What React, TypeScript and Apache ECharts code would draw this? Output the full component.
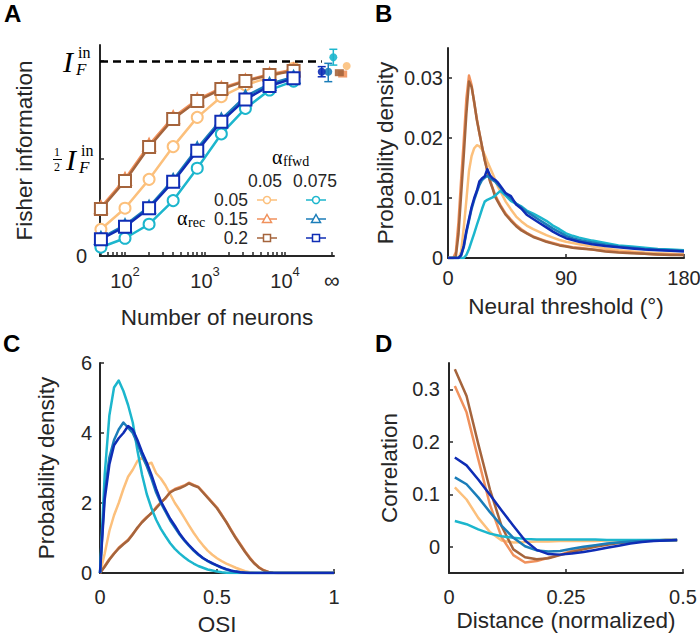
import { useEffect, useRef } from 'react';
import * as echarts from 'echarts';

// ---------------- Panel A: Fisher information vs number of neurons ----------------
const neurons = [50, 100, 200, 400, 800, 1600, 3200, 6400, 12800];
const fisherLightOrange = [0.137, 0.245, 0.393, 0.561, 0.711, 0.817, 0.877, 0.916, 0.963];
const fisherOrange = [0.25, 0.395, 0.57, 0.712, 0.802, 0.862, 0.9, 0.932, 0.955];
const fisherBrown = [0.241, 0.385, 0.559, 0.703, 0.795, 0.856, 0.897, 0.928, 0.949];
const fisherCyan = [0.045, 0.091, 0.163, 0.284, 0.45, 0.626, 0.757, 0.851, 0.897];
const fisherTeal = [0.092, 0.158, 0.252, 0.39, 0.552, 0.7, 0.818, 0.882, 0.918];
const fisherDarkBlue = [0.086, 0.15, 0.245, 0.381, 0.54, 0.689, 0.803, 0.872, 0.911];
// values at N = infinity (order: lightOrange, orange, brown, cyan, teal, darkBlue)
const fisherInf = [0.974, 0.933, 0.94, 1.019, 0.945, 0.945];
const fisherInfLow = [null, null, null, 0.979, 0.894, 0.919];
const fisherInfHigh = [null, null, null, 1.06, 0.988, 0.971];
const aTickExponents = [2, 3, 4];
const alphaFfwd = ['0.05', '0.075'];
const alphaRec = ['0.05', '0.15', '0.2'];

// ---------------- Panel B: neural threshold distributions ----------------
const thresholdDeg = [0, 4, 6, 8, 10, 12, 14, 16, 18, 20, 22, 24, 26, 28, 30, 32, 34, 36, 38, 40, 44, 48, 52, 56, 60, 65, 70, 75, 80, 85, 90, 95, 100, 110, 120, 130, 140, 150, 160, 170, 180];
const thrLightOrange = [0, 0, 0, 0, 0.001, 0.005, 0.0096, 0.0145, 0.017, 0.0183, 0.0188, 0.0186, 0.0181, 0.0172, 0.0161, 0.0151, 0.0141, 0.013, 0.0119, 0.0111, 0.0094, 0.0081, 0.0069, 0.0061, 0.0054, 0.0048, 0.0043, 0.0038, 0.0034, 0.003, 0.0027, 0.0025, 0.0023, 0.0019, 0.0016, 0.0013, 0.0011, 0.0009, 0.0008, 0.0007, 0.0006];
const thrOrange = [0, 0, 0.001, 0.006, 0.013, 0.0195, 0.0265, 0.0304, 0.0288, 0.0258, 0.0232, 0.0207, 0.0185, 0.0164, 0.0146, 0.013, 0.0117, 0.0105, 0.0096, 0.0088, 0.0074, 0.0064, 0.0055, 0.0048, 0.0042, 0.0036, 0.0032, 0.0028, 0.0025, 0.0022, 0.002, 0.0018, 0.0017, 0.0014, 0.0012, 0.001, 0.0009, 0.0007, 0.0006, 0.0006, 0.0005];
const thrBrown = [0, 0, 0.0003, 0.004, 0.0105, 0.017, 0.024, 0.0294, 0.0285, 0.026, 0.023, 0.0208, 0.0186, 0.0163, 0.0145, 0.0128, 0.0116, 0.0102, 0.0094, 0.0086, 0.0072, 0.0062, 0.0053, 0.0046, 0.0041, 0.0035, 0.0031, 0.0027, 0.0024, 0.0021, 0.0019, 0.0017, 0.0016, 0.0014, 0.0011, 0.0009, 0.0008, 0.0007, 0.0006, 0.0005, 0.0005];
const thrCyan = [0, 0, 0, 0, 0, 0, 0.0005, 0.0015, 0.0028, 0.0041, 0.0055, 0.0068, 0.0082, 0.0094, 0.0097, 0.0099, 0.0101, 0.0104, 0.0108, 0.0112, 0.0104, 0.0095, 0.009, 0.0086, 0.0079, 0.0074, 0.0068, 0.0062, 0.0054, 0.0048, 0.0041, 0.0037, 0.0034, 0.0029, 0.0025, 0.0021, 0.0019, 0.0017, 0.0015, 0.0014, 0.0013];
const thrTeal = [0, 0, 0, 0, 0.0004, 0.0018, 0.0042, 0.0062, 0.0082, 0.0097, 0.011, 0.0122, 0.013, 0.0134, 0.0137, 0.0133, 0.013, 0.0127, 0.0122, 0.0117, 0.0107, 0.0099, 0.0091, 0.0084, 0.0077, 0.007, 0.0063, 0.0056, 0.0049, 0.0043, 0.0037, 0.0033, 0.003, 0.0026, 0.0022, 0.0019, 0.0017, 0.0015, 0.0014, 0.0013, 0.0012];
const thrDarkBlue = [0, 0, 0, 0, 0.0005, 0.002, 0.0045, 0.0065, 0.0085, 0.01, 0.0112, 0.0128, 0.0133, 0.0136, 0.0148, 0.0138, 0.0133, 0.013, 0.0126, 0.012, 0.0108, 0.0103, 0.0089, 0.0082, 0.0072, 0.0065, 0.0058, 0.0051, 0.0044, 0.0038, 0.0033, 0.003, 0.0027, 0.0023, 0.002, 0.0018, 0.0016, 0.0014, 0.0013, 0.0012, 0.0011];

// ---------------- Panel C: OSI distributions ----------------
const osiBins = [0, 0.02, 0.04, 0.06, 0.08, 0.1, 0.12, 0.14, 0.16, 0.18, 0.2, 0.22, 0.24, 0.26, 0.28, 0.3, 0.32, 0.34, 0.36, 0.38, 0.4, 0.42, 0.44, 0.46, 0.48, 0.5, 0.52, 0.54, 0.56, 0.58, 0.6, 0.62, 0.64, 0.66, 0.68, 0.7, 0.72, 0.74, 0.76, 0.8, 0.9, 1.0];
const osiLightOrange = [0, 0.55, 1.2, 1.65, 2.0, 2.4, 2.75, 2.95, 3.2, 3.3, 3.1, 3.15, 2.85, 2.7, 2.5, 2.25, 2.0, 1.8, 1.58, 1.36, 1.15, 0.96, 0.79, 0.64, 0.52, 0.42, 0.34, 0.27, 0.21, 0.15, 0.1, 0.05, 0.02, 0.01, 0, 0, 0, 0, 0, 0, 0, 0];
const osiOrange = [0, 0.2, 0.4, 0.56, 0.72, 0.84, 0.95, 1.12, 1.28, 1.47, 1.6, 1.7, 1.88, 2.02, 2.13, 2.32, 2.4, 2.45, 2.5, 2.58, 2.52, 2.46, 2.32, 2.17, 2.02, 1.87, 1.67, 1.46, 1.24, 1.02, 0.82, 0.62, 0.44, 0.28, 0.16, 0.08, 0.03, 0.01, 0, 0, 0, 0];
const osiBrown = [0, 0.18, 0.38, 0.55, 0.7, 0.82, 0.93, 1.1, 1.3, 1.45, 1.58, 1.72, 1.85, 2.0, 2.15, 2.3, 2.38, 2.42, 2.48, 2.56, 2.5, 2.45, 2.3, 2.15, 2.0, 1.85, 1.65, 1.45, 1.22, 1.0, 0.8, 0.6, 0.42, 0.27, 0.15, 0.07, 0.03, 0.01, 0, 0, 0, 0];
const osiCyan = [0, 2.8, 4.5, 5.3, 5.5, 5.2, 4.8, 4.3, 3.5, 2.8, 2.25, 1.85, 1.52, 1.26, 1.05, 0.85, 0.69, 0.56, 0.45, 0.35, 0.27, 0.2, 0.15, 0.1, 0.07, 0.04, 0.02, 0.01, 0, 0, 0, 0, 0, 0, 0, 0, 0, 0, 0, 0, 0, 0];
const osiTeal = [0, 2.3, 3.3, 3.8, 4.1, 4.3, 4.15, 4.0, 3.7, 3.35, 3.05, 2.7, 2.3, 2.0, 1.75, 1.5, 1.3, 1.1, 0.93, 0.78, 0.64, 0.52, 0.42, 0.34, 0.27, 0.21, 0.15, 0.1, 0.06, 0.04, 0.02, 0.01, 0, 0, 0, 0, 0, 0, 0, 0, 0, 0];
const osiDarkBlue = [0, 2.1, 3.1, 3.65, 3.85, 4.0, 4.2, 4.1, 3.8, 3.45, 3.15, 2.8, 2.4, 2.05, 1.8, 1.55, 1.35, 1.13, 0.95, 0.8, 0.66, 0.54, 0.43, 0.35, 0.28, 0.22, 0.16, 0.11, 0.07, 0.04, 0.02, 0.01, 0, 0, 0, 0, 0, 0, 0, 0, 0, 0];

// ---------------- Panel D: correlation vs distance ----------------
const distBins = [0.0125, 0.0375, 0.0625, 0.0875, 0.1125, 0.1375, 0.1625, 0.1875, 0.2125, 0.2375, 0.2625, 0.2875, 0.3125, 0.3375, 0.3625, 0.3875, 0.4125, 0.4375, 0.4625, 0.4875];
const corrLightOrange = [0.113, 0.09, 0.055, 0.028, 0.012, 0.008, 0.009, 0.01, 0.01, 0.011, 0.011, 0.011, 0.011, 0.012, 0.012, 0.012, 0.012, 0.012, 0.012, 0.012];
const corrOrange = [0.306, 0.256, 0.167, 0.08, 0.018, -0.016, -0.03, -0.027, -0.021, -0.015, -0.008, -0.002, 0.002, 0.005, 0.008, 0.01, 0.011, 0.012, 0.013, 0.013];
const corrBrown = [0.338, 0.287, 0.196, 0.109, 0.039, -0.005, -0.02, -0.024, -0.022, -0.016, -0.01, -0.005, 0, 0.004, 0.007, 0.009, 0.011, 0.012, 0.013, 0.013];
const corrCyan = [0.049, 0.043, 0.033, 0.025, 0.02, 0.017, 0.015, 0.014, 0.014, 0.014, 0.014, 0.014, 0.014, 0.013, 0.013, 0.013, 0.013, 0.013, 0.013, 0.013];
const corrTeal = [0.132, 0.119, 0.094, 0.066, 0.04, 0.017, 0.001, -0.007, -0.009, -0.008, -0.004, 0, 0.003, 0.006, 0.008, 0.01, 0.011, 0.012, 0.012, 0.013];
const corrDarkBlue = [0.17, 0.155, 0.128, 0.099, 0.069, 0.04, 0.012, -0.006, -0.014, -0.015, -0.013, -0.01, -0.006, -0.002, 0.002, 0.006, 0.009, 0.011, 0.012, 0.013];

// ---------------- styling ----------------
const COLORS = ['#FCC07C', '#F0915C', '#A5643C', '#1CB6CD', '#1B7DB9', '#0F2DB5'];
const AX = '#262626';
const FONT = '"Liberation Sans", Arial, Helvetica, sans-serif';
const SERIF = '"Liberation Serif", "DejaVu Serif", serif';
const A_MIN = 1.6875;
const A_MAX = 4.6125;
const INF_POS = 4.585;
const INF_JITTER = [0.186, 0.136, 0.094, 0.019, -0.044, -0.126];
const INF_SYMBOL = ['circle', 'rect', 'rect', 'circle', 'circle', 'circle'];

function makeAxis(gridIndex: number, o: any) {
  return {
    type: 'value',
    gridIndex,
    min: o.min,
    max: o.max,
    name: o.name,
    nameLocation: 'middle',
    nameGap: o.nameGap,
    nameTextStyle: { color: AX, fontSize: 22.5, fontFamily: FONT },
    axisLine: { show: true, onZero: false, lineStyle: { color: AX, width: 2 } },
    axisTick: { show: true, inside: true, length: 4, customValues: o.ticks, lineStyle: { color: AX, width: 1.5 } },
    axisLabel: {
      show: true,
      color: AX,
      fontSize: 20,
      fontFamily: FONT,
      margin: o.margin,
      customValues: o.labels || o.ticks,
      formatter: o.formatter,
      rich: o.rich,
      showMinLabel: true,
      showMaxLabel: true,
    },
    splitLine: { show: false },
  };
}

function curve(xs: number[], ys: number[], color: string, idx: number, width = 2.5) {
  return {
    type: 'line',
    xAxisIndex: idx,
    yAxisIndex: idx,
    data: xs.map((x, i) => [x, ys[i]]),
    symbol: 'none',
    smooth: false,
    lineStyle: { color, width, join: 'round' },
    itemStyle: { color },
    silent: true,
  };
}

function fisher(ys: number[], color: string, symbol: string, size: number, extra: any = {}) {
  return {
    type: 'line',
    xAxisIndex: 0,
    yAxisIndex: 0,
    data: neurons.map((n, i) => [Math.log10(n), ys[i]]),
    symbol,
    symbolSize: size,
    showSymbol: true,
    lineStyle: { color, width: 2.5 },
    itemStyle: { color, borderColor: color, borderWidth: 2.5 },
    silent: true,
    ...extra,
  };
}

function t(x: number, y: number, text: string, size: number, opts: any = {}) {
  return {
    type: 'text',
    x,
    y,
    silent: true,
    style: {
      text,
      fill: opts.fill || AX,
      fontSize: size,
      fontFamily: opts.family || FONT,
      fontStyle: opts.italic ? 'italic' : 'normal',
      fontWeight: opts.bold ? 'bold' : 'normal',
      align: opts.align || 'left',
      verticalAlign: 'middle',
    },
  };
}

function ifLabel(x: number, y: number) {
  return [
    t(x, y, 'I', 30, { family: SERIF, italic: true, fill: '#000' }),
    t(x + 15, y - 9, 'in', 16, { family: SERIF, fill: '#000' }),
    t(x + 13, y + 8, 'F', 17, { family: SERIF, italic: true, fill: '#000' }),
  ];
}

function legendGlyph(cx: number, cy: number, color: string, sym: string) {
  const line = { type: 'line', silent: true, shape: { x1: cx - 10, y1: cy, x2: cx + 10, y2: cy }, style: { stroke: color, lineWidth: 1.5 } };
  let m: any;
  if (sym === 'circle') m = { type: 'circle', shape: { cx, cy, r: 3.5 }, style: { fill: '#fff', stroke: color, lineWidth: 1.5 } };
  else if (sym === 'triangle') m = { type: 'polygon', shape: { points: [[cx, cy - 4.5], [cx + 4.5, cy + 3.5], [cx - 4.5, cy + 3.5]] }, style: { fill: '#fff', stroke: color, lineWidth: 1.5 } };
  else m = { type: 'rect', shape: { x: cx - 3.5, y: cy - 3.5, width: 7, height: 7 }, style: { fill: '#fff', stroke: color, lineWidth: 1.5 } };
  m.silent = true;
  return [line, m];
}

function buildOption() {
  const minorTicks: number[] = [];
  for (let e = 1; e <= 4; e++) {
    for (let k = 1; k <= 9; k++) {
      const v = Math.log10(k * Math.pow(10, e));
      if (v >= A_MIN && v <= 4.0001) minorTicks.push(v);
    }
  }
  minorTicks.push(INF_POS);

  const symbolsByRec = ['circle', 'triangle', 'rect'];
  const legendGraphics: any[] = [];
  alphaRec.forEach((r, row) => {
    const cy = 200 + row * 19;
    legendGraphics.push(t(248, cy, r, 17.5, { align: 'right' }));
    [0, 1].forEach((col) => {
      const cIdx = col * 3 + row;
      legendGraphics.push(...legendGlyph(col === 0 ? 267 : 316, cy, COLORS[cIdx], symbolsByRec[row]));
    });
  });
  alphaFfwd.forEach((f, col) => legendGraphics.push(t(col === 0 ? 265 : 315, 181, f, 17.5, { align: 'center' })));
  legendGraphics.push(t(272, 157, 'α', 20, { family: SERIF, fill: '#000' }));
  legendGraphics.push(t(283, 161, 'ffwd', 14, { family: SERIF, fill: '#000' }));
  legendGraphics.push(t(177, 218, 'α', 20, { family: SERIF, fill: '#000' }));
  legendGraphics.push(t(188, 222, 'rec', 14, { family: SERIF, fill: '#000' }));

  const graphic = [
    t(4, 13, 'A', 24, { bold: true, fill: '#000' }),
    t(375, 13, 'B', 24, { bold: true, fill: '#000' }),
    t(3, 343, 'C', 24, { bold: true, fill: '#000' }),
    t(375, 343, 'D', 24, { bold: true, fill: '#000' }),
    ...ifLabel(63, 61),
    ...ifLabel(66, 159),
    t(57, 152, '1', 12, { family: SERIF, align: 'center', fill: '#000' }),
    { type: 'line', silent: true, shape: { x1: 53, y1: 159.5, x2: 62, y2: 159.5 }, style: { stroke: '#000', lineWidth: 1 } },
    t(57, 167, '2', 12, { family: SERIF, align: 'center', fill: '#000' }),
    ...legendGraphics,
  ];

  const errIdx = [3, 4, 5];

  const series: any[] = [
    fisher(fisherLightOrange, COLORS[0], 'emptyCircle', 11, {
      markLine: {
        silent: true,
        symbol: ['none', 'none'],
        label: { show: false },
        lineStyle: { type: [8, 5], color: '#000', width: 2.5 },
        data: [[{ coord: [A_MIN, 1] }, { coord: [4.46, 1] }]],
      },
    }),
    fisher(fisherOrange, COLORS[1], 'emptyTriangle', 12),
    fisher(fisherBrown, COLORS[2], 'emptyRect', 12),
    fisher(fisherCyan, COLORS[3], 'emptyCircle', 11),
    fisher(fisherTeal, COLORS[4], 'emptyTriangle', 12),
    fisher(fisherDarkBlue, COLORS[5], 'emptyRect', 12),
    {
      type: 'custom',
      xAxisIndex: 0,
      yAxisIndex: 0,
      clip: false,
      silent: true,
      data: errIdx.map((i) => [INF_POS + INF_JITTER[i], fisherInfLow[i], fisherInfHigh[i], i]),
      renderItem: (_p: any, api: any) => {
        const x = api.value(0);
        const a = api.coord([x, api.value(1)]);
        const b = api.coord([x, api.value(2)]);
        const c = COLORS[api.value(3)];
        const w = 4;
        const st = { stroke: c, lineWidth: 1.5 };
        return {
          type: 'group',
          children: [
            { type: 'line', shape: { x1: a[0], y1: a[1], x2: b[0], y2: b[1] }, style: st },
            { type: 'line', shape: { x1: a[0] - w, y1: a[1], x2: a[0] + w, y2: a[1] }, style: st },
            { type: 'line', shape: { x1: b[0] - w, y1: b[1], x2: b[0] + w, y2: b[1] }, style: st },
          ],
        };
      },
    },
    {
      type: 'scatter',
      xAxisIndex: 0,
      yAxisIndex: 0,
      clip: false,
      silent: true,
      z: 3,
      data: fisherInf.map((v, i) => ({
        value: [INF_POS + INF_JITTER[i], v],
        symbol: INF_SYMBOL[i],
        symbolSize: INF_SYMBOL[i] === 'rect' ? [9, 7] : 8,
        itemStyle: { color: COLORS[i], opacity: 0.9 },
      })),
    },
  ];

  const bSets = [thrLightOrange, thrOrange, thrBrown, thrCyan, thrTeal, thrDarkBlue];
  bSets.forEach((ys, i) => series.push(curve(thresholdDeg, ys, COLORS[i], 1, 2.5)));
  const cSets = [osiLightOrange, osiOrange, osiBrown, osiCyan, osiTeal, osiDarkBlue];
  cSets.forEach((ys, i) => series.push(curve(osiBins, ys, COLORS[i], 2, 2.5)));
  const dSets = [corrLightOrange, corrOrange, corrBrown, corrCyan, corrTeal, corrDarkBlue];
  dSets.forEach((ys, i) => series.push(curve(distBins, ys, COLORS[i], 3, 2.5)));

  const aLabelValues = [...aTickExponents, INF_POS];

  return {
    animation: false,
    backgroundColor: '#ffffff',
    textStyle: { fontFamily: FONT },
    grid: [
      { left: 100, top: 45, width: 234, height: 211, containLabel: false, outerBoundsMode: 'none' },
      { left: 448, top: 48, width: 236, height: 210, containLabel: false, outerBoundsMode: 'none' },
      { left: 100, top: 363, width: 234, height: 210, containLabel: false, outerBoundsMode: 'none' },
      { left: 449, top: 363, width: 234, height: 210, containLabel: false, outerBoundsMode: 'none' },
    ],
    xAxis: [
      makeAxis(0, {
        min: A_MIN, max: A_MAX, name: 'Number of neurons', nameGap: 50, margin: 9,
        ticks: minorTicks, labels: aLabelValues,
        formatter: (v: number) => (v > 4.5 ? '{inf|∞}' : `{b|10}{s|${Math.round(v)}}`),
        rich: {
          b: { fontSize: 20, lineHeight: 26, verticalAlign: 'bottom', color: AX, fontFamily: FONT },
          s: { fontSize: 13, lineHeight: 12, verticalAlign: 'top', color: AX, fontFamily: FONT },
          inf: { fontSize: 22, lineHeight: 26, verticalAlign: 'bottom', color: AX, fontFamily: FONT },
        },
      }),
      makeAxis(1, { min: 0, max: 180, name: 'Neural threshold (°)', nameGap: 37, margin: 10, ticks: [0, 90, 180] }),
      makeAxis(2, { min: 0, max: 1, name: 'OSI', nameGap: 40, margin: 14, ticks: [0, 0.5, 1] }),
      makeAxis(3, { min: 0, max: 0.5, name: 'Distance (normalized)', nameGap: 36, margin: 14, ticks: [0, 0.25, 0.5] }),
    ],
    yAxis: [
      makeAxis(0, {
        min: 0, max: 1.082, name: 'Fisher information', nameGap: 64, margin: 13,
        ticks: [0, 0.5, 1], labels: [0],
      }),
      makeAxis(1, { min: 0, max: 0.035, name: 'Probability density', nameGap: 51, margin: 5, ticks: [0, 0.01, 0.02, 0.03] }),
      makeAxis(2, { min: 0, max: 6, name: 'Probability density', nameGap: 42, margin: 8, ticks: [0, 2, 4, 6] }),
      makeAxis(3, { min: -0.05, max: 0.35, name: 'Correlation', nameGap: 48, margin: 9, ticks: [0, 0.1, 0.2, 0.3] }),
    ],
    graphic,
    series,
  };
}

export default function App() {
  const ref = useRef<HTMLDivElement>(null);
  useEffect(() => {
    if (!ref.current) return;
    const chart = echarts.init(ref.current, undefined, { renderer: 'svg' });
    chart.setOption(buildOption() as any);
    return () => chart.dispose();
  }, []);
  return <div ref={ref} style={{ position: 'absolute', left: 0, top: 0, width: 700, height: 640, background: '#fff' }} />;
}
